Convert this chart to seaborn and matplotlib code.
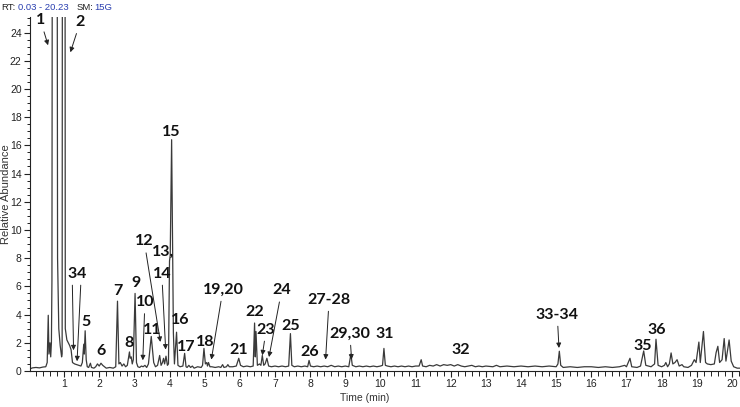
import seaborn as sns
import pandas as pd
import matplotlib as mpl
import matplotlib.pyplot as plt

# chromatogram trace (vertices of the line)
rt = [0.03, 0.1, 0.2, 0.3, 0.4, 0.48, 0.52, 0.55, 0.57, 0.6, 0.62, 0.64, 0.655, 0.71,
      0.75, 0.815, 0.85, 0.89, 0.93, 0.945, 0.98, 1.0, 1.035, 1.08, 1.12, 1.16, 1.2,
      1.24, 1.3, 1.36, 1.42, 1.48, 1.52, 1.56, 1.575, 1.6, 1.63, 1.66, 1.7, 1.75, 1.78,
      1.85, 1.9, 1.95, 2.0, 2.05, 2.1, 2.15, 2.2, 2.3, 2.4, 2.47, 2.52, 2.56, 2.6, 2.65,
      2.7, 2.75, 2.8, 2.86, 2.88, 2.91, 2.94, 2.97, 3.02, 3.06, 3.1, 3.15, 3.2, 3.25,
      3.3, 3.35, 3.4, 3.48, 3.55, 3.6, 3.66, 3.72, 3.76, 3.8, 3.83, 3.86, 3.9, 3.94,
      3.97, 4.0, 4.02, 4.06, 4.11, 4.14, 4.2, 4.24, 4.3, 4.38, 4.43, 4.47, 4.5, 4.55,
      4.6, 4.65, 4.7, 4.8, 4.9, 4.94, 4.98, 5.02, 5.06, 5.08, 5.11, 5.15, 5.2, 5.3,
      5.4, 5.46, 5.51, 5.55, 5.62, 5.66, 5.7, 5.8, 5.9, 5.97, 6.02, 6.1, 6.2, 6.3,
      6.38, 6.42, 6.44, 6.46, 6.5, 6.56, 6.6, 6.64, 6.68, 6.72, 6.77, 6.82, 6.9, 7.0,
      7.1, 7.2, 7.3, 7.39, 7.44, 7.48, 7.55, 7.65, 7.75, 7.85, 7.93, 7.97, 8.01, 8.1,
      8.2, 8.3, 8.4, 8.5, 8.6, 8.7, 8.8, 8.9, 9.0, 9.1, 9.16, 9.2, 9.3, 9.4, 9.5, 9.6,
      9.7, 9.8, 9.9, 10.0, 10.06, 10.1, 10.14, 10.2, 10.3, 10.4, 10.5, 10.6, 10.7,
      10.8, 10.9, 11.0, 11.1, 11.16, 11.2, 11.3, 11.4, 11.5, 11.6, 11.7, 11.8, 11.9,
      12.0, 12.1, 12.2, 12.3, 12.4, 12.5, 12.6, 12.7, 12.8, 12.9, 13.0, 13.2, 13.3,
      13.4, 13.6, 13.8, 14.0, 14.2, 14.4, 14.6, 14.8, 15.0, 15.05, 15.09, 15.13, 15.2,
      15.4, 15.6, 15.8, 16.0, 16.2, 16.4, 16.6, 16.8, 16.95, 17.0, 17.1, 17.15, 17.3,
      17.4, 17.49, 17.55, 17.7, 17.8, 17.84, 17.9, 18.0, 18.08, 18.12, 18.17, 18.22,
      18.27, 18.32, 18.38, 18.44, 18.5, 18.58, 18.63, 18.75, 18.85, 18.93, 18.98,
      19.06, 19.1, 19.19, 19.25, 19.3, 19.4, 19.5, 19.55, 19.6, 19.65, 19.72, 19.78,
      19.83, 19.92, 19.98, 20.05, 20.15, 20.23]
abundance = [0.15, 0.22, 0.25, 0.22, 0.28, 0.3, 0.6, 3.95, 1.2, 2.0, 1.0, 2.0, 6.4, 150,
             150, 8.0, 3.0, 1.8, 1.0, 1.2, 150, 150, 3.0, 2.2, 2.0, 1.8, 1.5,
             0.6, 0.5, 0.45, 0.4, 0.35, 0.6, 1.9, 1.2, 2.85, 0.8, 0.3, 0.25, 0.55, 0.25,
             0.2, 0.3, 0.5, 0.35, 0.55, 0.4, 0.3, 0.2, 0.25, 0.2, 0.3, 4.95, 0.5, 0.6, 0.35,
             0.5, 0.3, 0.4, 1.35, 0.9, 1.0, 0.5, 0.8, 5.5, 0.6, 0.3, 0.25, 0.35, 0.3,
             0.4, 0.25, 0.5, 2.45, 0.6, 0.3, 0.4, 1.1, 0.4, 0.6, 0.9, 0.5, 1.05, 0.4,
             0.5, 7.8, 8.2, 16.4, 2.7, 0.5, 2.75, 0.4, 0.3, 0.35, 1.25, 0.3, 0.25, 0.4,
             0.25, 0.35, 0.2, 0.3, 0.25, 0.4, 1.6, 0.5, 0.6, 0.35, 0.6, 0.3, 0.3, 0.25,
             0.3, 0.25, 0.45, 0.25, 0.3, 0.45, 0.3, 0.3, 0.35, 0.9, 0.4, 0.3, 0.35, 0.3,
             0.35, 3.4, 1.0, 2.8, 0.4, 0.5, 0.4, 1.1, 0.4, 0.5, 0.9, 0.35, 0.3, 0.35,
             0.3, 0.35, 0.3, 0.35, 2.65, 0.4, 0.3, 0.35, 0.3, 0.35, 0.3, 0.75, 0.35, 0.3,
             0.35, 0.3, 0.35, 0.3, 0.4, 0.3, 0.35, 0.3, 0.35, 0.3, 1.2, 0.4, 0.3, 0.35, 0.3, 0.35,
             0.3, 0.35, 0.3, 0.35, 0.4, 1.6, 0.4, 0.35, 0.3, 0.35, 0.3, 0.35, 0.3,
             0.35, 0.3, 0.35, 0.35, 0.8, 0.35, 0.3, 0.4, 0.35, 0.45, 0.35, 0.45, 0.4,
             0.45, 0.35, 0.45, 0.35, 0.3, 0.35, 0.4, 0.3, 0.35, 0.3, 0.35, 0.3, 0.4,
             0.3, 0.35, 0.3, 0.35, 0.3, 0.35, 0.3, 0.35, 0.3, 0.5, 1.4, 0.4, 0.25,
             0.3, 0.25, 0.3, 0.3, 0.25, 0.3, 0.25, 0.3, 0.4, 0.3, 0.9, 0.3, 0.25,
             0.35, 1.42, 0.4, 0.3, 0.5, 2.25, 0.4, 0.3, 0.4, 0.6, 0.3, 0.5,
             1.28, 0.5, 0.6, 0.8, 0.35, 0.45, 0.3, 0.25, 0.4, 0.8, 0.6,
             2.05, 0.6, 2.8, 0.6, 0.5, 0.45, 0.5, 1.3, 1.75, 0.6, 0.8, 2.3,
             0.7, 2.2, 0.7, 0.3, 0.2, 0.2]

# peak labels: text, label position (min, abundance), arrow tip or None
labels = ["1", "2", "3", "4", "5", "6", "7", "8", "9", "10", "11", "12", "13,", "14",
          "15", "16", "17", "18", "19,20", "21", "22", "23", "24", "25", "26", "27-28",
          "29,30", "31", "32", "33-34", "35", "36"]
label_x = [0.33, 1.46, 1.23, 1.49, 1.63, 2.05, 2.54, 2.86, 3.05, 3.30, 3.52, 3.28, 3.81,
           3.78, 4.05, 4.31, 4.47, 5.01, 5.52, 5.97, 6.42, 6.75, 7.19, 7.45, 8.00, 8.54,
           9.13, 10.13, 12.29, 15.03, 17.47, 17.85]
label_y = [24.87, 24.75, 6.91, 6.91, 3.48, 1.42, 5.65, 2.01, 6.24, 4.89, 2.89, 9.2, 8.44,
           6.91, 16.95, 3.6, 1.73, 2.06, 5.77, 1.47, 4.18, 2.94, 5.72, 3.17, 1.35, 5.06,
           2.65, 2.65, 1.47, 4.0, 1.77, 2.94]
tip_x = [0.545, 1.18, 1.27, 1.37, None, None, None, None, None, 3.24, None, 3.74, None,
         3.89, None, None, None, None, 5.19, None, None, 6.64, 6.83, None, None, 8.44,
         9.18, None, None, 15.08, None, None]
tip_y = [23.1, 22.6, 1.47, 0.69, None, None, None, None, None, 0.76, None, 2.06, None,
         1.52, None, None, None, None, 0.81, None, None, 1.11, 0.99, None, None, 0.81,
         0.81, None, None, 1.63, None, None]

data = pd.DataFrame({"Time (min)": rt, "Relative Abundance": abundance})

sns.set_style("ticks")
plt.rcParams['font.family'] = ['Liberation Sans', 'DejaVu Sans']

fig = plt.figure(figsize=(7.4, 4.07), dpi=100)
ax = fig.add_axes([0.0405, 0.0885, 0.9595, 0.8697])

sns.lineplot(x="Time (min)", y="Relative Abundance", data=data, ax=ax,
             color='#3a3a3a', linewidth=0.9, sort=False, estimator=None)

ax.set_xlim(0.03, 20.23)
ax.set_ylim(0, 25.1)
ax.set_xticks(range(1, 21))
ax.set_yticks(range(0, 25, 2))
ax.get_xaxis().set_minor_locator(mpl.ticker.MultipleLocator(0.2))
ax.get_yaxis().set_minor_locator(mpl.ticker.MultipleLocator(0.5))
ax.tick_params(which='major', length=4, width=0.8, labelsize=7.5, colors='#222222', pad=2)
ax.tick_params(which='minor', length=3.5, width=0.7, colors='#222222')
ax.tick_params(axis='y', which='minor', length=2.5)
for s in ['top', 'right']:
    ax.spines[s].set_visible(False)
for s in ['left', 'bottom']:
    ax.spines[s].set_color('#222222')
    ax.spines[s].set_linewidth(0.8)

ax.set_xlabel("Time (min)", fontsize=7.5, color='#333333')
ax.xaxis.set_label_coords((365 - 30) / 710, -22 / 354)
ax.set_ylabel("Relative Abundance", fontsize=8, color='#333333')
ax.yaxis.set_label_coords(-19 / 710, 0.5)

lab_font = dict(fontsize=11.5, fontweight='bold', color='#111111',
                family=['Lato', 'DejaVu Sans'])
for i in range(len(labels)):
    if tip_x[i] is None:
        ax.text(label_x[i], label_y[i], labels[i], ha='center', va='center', **lab_font)
    else:
        ax.annotate(labels[i], xy=(tip_x[i], tip_y[i]), xytext=(label_x[i], label_y[i]),
                    ha='center', va='center', annotation_clip=False,
                    arrowprops=dict(arrowstyle='-|>', color='#222222', lw=0.7,
                                    mutation_scale=7, shrinkA=1, shrinkB=0),
                    **lab_font)

# header line
hy = 1 - 7 / 407
fig.text(1 / 740, hy, "RT:", fontsize=6.8, color='#222222', va='center')
fig.text(18 / 740, hy, "0.03 - 20.23", fontsize=6.8, color='#2a3fb0', va='center')
fig.text(77 / 740, hy, "SM:", fontsize=6.8, color='#222222', va='center')
fig.text(94 / 740, hy, "15G", fontsize=6.8, color='#2a3fb0', va='center')

plt.savefig('out.png', dpi=100)
